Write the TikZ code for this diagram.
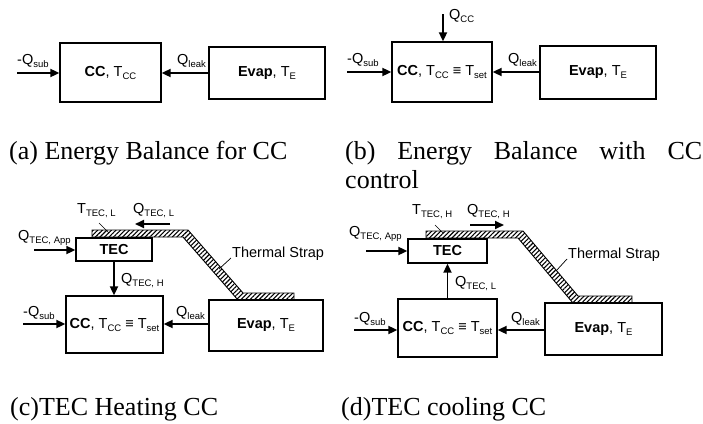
\documentclass[tikz,border=0pt]{standalone}
\usepackage{fontspec}
\setmainfont{Liberation Serif}
\newfontfamily\arial{Liberation Sans}
\usetikzlibrary{arrows.meta,patterns.meta}
\newcommand\sbs[1]{\raisebox{-3pt}{\fontsize{9.5}{10}\selectfont #1}}
\begin{document}
\begin{tikzpicture}[x=1pt,y=-1pt,
  box/.style={draw,line width=1.3pt,inner sep=0pt,font=\arial\fontsize{14.5}{16}\selectfont},
  lbl/.style={inner sep=0pt,anchor=base west,font=\arial\fontsize{14.5}{16}\selectfont},
  captxt/.style={inner sep=0pt,anchor=base west,font=\fontsize{26}{29}\selectfont},
  arr/.style={line width=1.8pt,-{Triangle[length=9pt,width=8pt]}},
  strap/.style={draw,line width=0.9pt,pattern={Lines[angle=45,distance=3.2pt,line width=1.1pt]}},
  lead/.style={line width=0.7pt}]
\useasboundingbox (0,0) rectangle (703,423);

% ---------- (a)
\node[box,minimum width=101pt,minimum height=59pt] (CCa) at (110.5,72.5) {\textbf{CC}, T\sbs{CC}};
\node[box,minimum width=116pt,minimum height=52pt] (EVa) at (267,73) {\textbf{Evap}, T\sbs{E}};
\coordinate (SUBa) at (17,73);
\draw[arr] (SUBa) -- (SUBa -| CCa.west);
\node[lbl] (LSa) at (17,64) {-Q\sbs{sub}};
\draw[arr] (EVa.west |- SUBa) -- (SUBa -| CCa.east);
\node[lbl] (LLa) at (177,64) {Q\sbs{leak}};

% ---------- (b)
\node[box,minimum width=100pt,minimum height=60pt] (CCb) at (442,72) {\textbf{CC}, T\sbs{CC} ≡ T\sbs{set}};
\node[box,minimum width=116pt,minimum height=53pt] (EVb) at (598,72.5) {\textbf{Evap}, T\sbs{E}};
\coordinate (QCb) at (443,14);
\draw[arr] (QCb) -- (QCb |- CCb.north);
\node[lbl] (LQCb) at (449,19) {Q\sbs{CC}};
\coordinate (SUBb) at (347,72);
\draw[arr] (SUBb) -- (SUBb -| CCb.west);
\node[lbl] (LSb) at (347,63) {-Q\sbs{sub}};
\draw[arr] (EVb.west |- SUBb) -- (SUBb -| CCb.east);
\node[lbl] (LLb) at (508,63) {Q\sbs{leak}};

% ---------- (c)
\draw[strap] (92,230) -- (188,230) -- (243,293) -- (294,293) -- (294,300) -- (238,300) -- (183,237) -- (92,237) -- cycle;
\node[box,minimum width=76pt,minimum height=23pt] (TECc) at (114,249.5) {\textbf{TEC}};
\node[box,minimum width=97pt,minimum height=57pt] (CCc) at (114.5,324.5) {\textbf{CC}, T\sbs{CC} ≡ T\sbs{set}};
\node[box,minimum width=114pt,minimum height=51pt] (EVc) at (266,325.5) {\textbf{Evap}, T\sbs{E}};
\node[lbl] (LTc) at (77,213) {T\sbs{TEC, L}};
\coordinate (LTc1) at (99,223); \coordinate (LTc2) at (109,233);
\draw[lead] (LTc1) -- (LTc2);
\node[lbl] (LQLc) at (133,213) {Q\sbs{TEC, L}};
\coordinate (QLc1) at (170,224); \coordinate (QLc2) at (135,224);
\draw[arr] (QLc1) -- (QLc2);
\node[lbl] (LAc) at (18,240) {Q\sbs{TEC, App}};
\coordinate (QAc) at (34,250);
\draw[arr] (QAc) -- (QAc -| TECc.west);
\draw[arr] (TECc.south) -- (TECc.south |- CCc.north);
\node[lbl] (LQHc) at (121,283) {Q\sbs{TEC, H}};
\node[lbl] (LSTc) at (232,257) {Thermal Strap};
\coordinate (STc1) at (219,269); \coordinate (STc2) at (231,258);
\draw[lead] (STc1) -- (STc2);
\coordinate (SUBc) at (23,324);
\draw[arr] (SUBc) -- (SUBc -| CCc.west);
\node[lbl] (LSc) at (23,316) {-Q\sbs{sub}};
\draw[arr] (EVc.west |- SUBc) -- (SUBc -| CCc.east);
\node[lbl] (LLc) at (176,316) {Q\sbs{leak}};

% ---------- (d)
\draw[strap] (426,231) -- (523,231) -- (578,296) -- (632,296) -- (632,303) -- (573,303) -- (518,238) -- (426,238) -- cycle;
\node[box,minimum width=79pt,minimum height=24pt] (TECd) at (447.5,251) {\textbf{TEC}};
\node[box,minimum width=99pt,minimum height=58pt] (CCd) at (447.5,328) {\textbf{CC}, T\sbs{CC} ≡ T\sbs{set}};
\node[box,minimum width=117pt,minimum height=52pt] (EVd) at (603.5,329) {\textbf{Evap}, T\sbs{E}};
\node[lbl] (LTd) at (412,214) {T\sbs{TEC, H}};
\coordinate (LTd1) at (435,225); \coordinate (LTd2) at (443,233);
\draw[lead] (LTd1) -- (LTd2);
\node[lbl] (LQHd) at (467,214) {Q\sbs{TEC, H}};
\coordinate (QHd1) at (470,225); \coordinate (QHd2) at (504,225);
\draw[arr] (QHd1) -- (QHd2);
\node[lbl] (LAd) at (349,236) {Q\sbs{TEC, App}};
\coordinate (QAd) at (366,251);
\draw[arr] (QAd) -- (QAd -| TECd.west);
\draw[arr] (CCd.north) -- (CCd.north |- TECd.south);
\node[lbl] (LQLd) at (455,286) {Q\sbs{TEC, L}};
\node[lbl] (LSTd) at (568,258) {Thermal Strap};
\coordinate (STd1) at (556,271); \coordinate (STd2) at (567,259);
\draw[lead] (STd1) -- (STd2);
\coordinate (SUBd) at (354,330);
\draw[arr] (SUBd) -- (SUBd -| CCd.west);
\node[lbl] (LSd) at (354,322) {-Q\sbs{sub}};
\draw[arr] (EVd.west |- SUBd) -- (SUBd -| CCd.east);
\node[lbl] (LLd) at (511,322) {Q\sbs{leak}};

% ---------- captions
\node[captxt] (capa) at (9,159) {(a) Energy Balance for CC};
\node[captxt] (capb) at (345,159) {\makebox[357pt][l]{(b)\hfill Energy\hfill Balance\hfill with\hfill CC}};
\node[captxt] (capb2) at (345,188) {control};
\node[captxt] (capc) at (10,415) {(c)TEC Heating CC};
\node[captxt] (capd) at (341,415) {(d)TEC cooling CC};
\end{tikzpicture}
\end{document}
